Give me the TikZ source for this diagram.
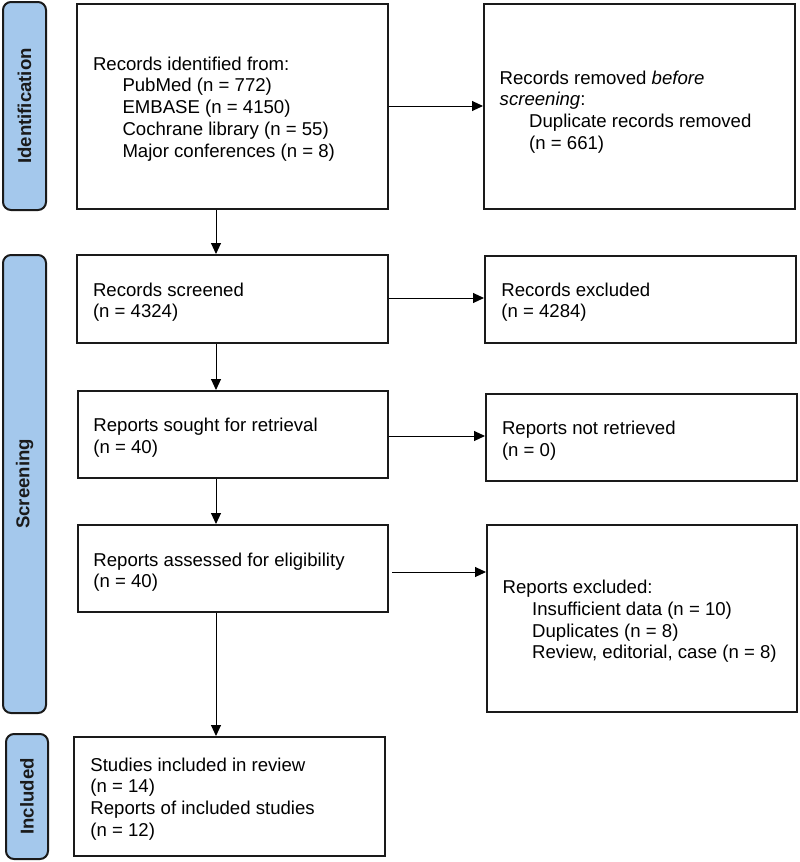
\documentclass[tikz,border=0pt]{standalone}
\usepackage{fontspec}
\setmainfont{Liberation Sans}
\usetikzlibrary{arrows.meta}
\definecolor{barblue}{HTML}{A4C8EC}
\definecolor{bardark}{HTML}{1A1A1A}
\newcommand{\ind}{\hspace*{29.5pt}}
\begin{document}
\begin{tikzpicture}[x=1pt,y=-1pt,
  bx/.style={draw=bardark,line width=2pt,inner sep=0pt,anchor=center},
  tx/.style={font=\fontsize{18.6}{21.7}\selectfont,align=left,inner sep=0pt,anchor=west},
  bar/.style={draw=bardark,fill=barblue,line width=2pt,rounded corners=8pt},
  barlab/.style={font=\fontsize{18.6}{21.7}\selectfont\bfseries,text=bardark,rotate=90,anchor=center},
  arr/.style={line width=1pt,-{Triangle[length=11pt,width=10pt]}}]
\useasboundingbox (0,0) rectangle (800,862);
% side bars
\draw[bar] (3,2) rectangle (46,210);
\node[barlab] (lid) at (24.5,106) {Identification};
\draw[bar] (3,255) rectangle (46,713);
\node[barlab] (lsc) at (24.5,484) {Screening};
\draw[bar] (6,734) rectangle (48,859);
\node[barlab] (lin) at (27,796.5) {Included};
% boxes
\node[bx,minimum width=311pt,minimum height=205pt] (ident) at (232.5,106.5) {};
\node[bx,minimum width=311pt,minimum height=205pt] (removed) at (639.5,106.5) {};
\node[bx,minimum width=311pt,minimum height=88pt] (screened) at (232.5,299) {};
\node[bx,minimum width=311pt,minimum height=87pt] (excluded) at (640.5,299.5) {};
\node[bx,minimum width=310pt,minimum height=87pt] (sought) at (233,434.5) {};
\node[bx,minimum width=311pt,minimum height=87pt] (notret) at (641.5,437.5) {};
\node[bx,minimum width=310pt,minimum height=87pt] (assessed) at (233,568.5) {};
\node[bx,minimum width=310pt,minimum height=187pt] (repexcl) at (642,618.5) {};
\node[bx,minimum width=311pt,minimum height=119pt] (included) at (229.5,796.5) {};
% texts
\node[tx] (identT) at (92.8,108.8)
 {Records identified from:\\ \ind PubMed (n = 772)\\ \ind EMBASE (n = 4150)\\ \ind Cochrane library (n = 55)\\ \ind Major conferences (n = 8)};
\node[tx] (removedT) at (499.5,112)
 {Records removed \textit{before}\\ \textit{screening}:\\ \ind Duplicate records removed\\ \ind (n = 661)};
\node[tx] (screenedT) at (92.8,302.3) {Records screened\\ (n = 4324)};
\node[tx] (excludedT) at (501.2,302.3) {Records excluded\\ (n = 4284)};
\node[tx] (soughtT) at (93.2,437.6) {Reports sought for retrieval\\ (n = 40)};
\node[tx] (notretT) at (501.8,440.6) {Reports not retrieved\\ (n = 0)};
\node[tx] (assessedT) at (93.2,572.3) {Reports assessed for eligibility\\ (n = 40)};
\node[tx] (repexclT) at (502.5,621.6)
 {Reports excluded:\\ \ind Insufficient data (n = 10)\\ \ind Duplicates (n = 8)\\ \ind Review, editorial, case (n = 8)};
\node[tx] (includedT) at (90.2,799)
 {Studies included in review\\ (n = 14)\\ Reports of included studies\\ (n = 12)};
% helper coordinates
\coordinate (h1) at (0,106);
\coordinate (h2) at (0,298);
\coordinate (h3) at (0,436);
\coordinate (h4) at (0,572);
\coordinate (h4s) at (392,572);
\coordinate (vx) at (216,0);
% arrows
\draw[arr] (ident.east |- h1) -- (removed.west |- h1);
\draw[arr] (screened.east |- h2) -- (excluded.west |- h2);
\draw[arr] (sought.east |- h3) -- (notret.west |- h3);
\draw[arr] (h4s) -- (repexcl.west |- h4);
\draw[arr] (ident.south -| vx) -- (screened.north -| vx);
\draw[arr] (screened.south -| vx) -- (sought.north -| vx);
\draw[arr] (sought.south -| vx) -- (assessed.north -| vx);
\draw[arr] (assessed.south -| vx) -- (included.north -| vx);
\end{tikzpicture}
\end{document}
